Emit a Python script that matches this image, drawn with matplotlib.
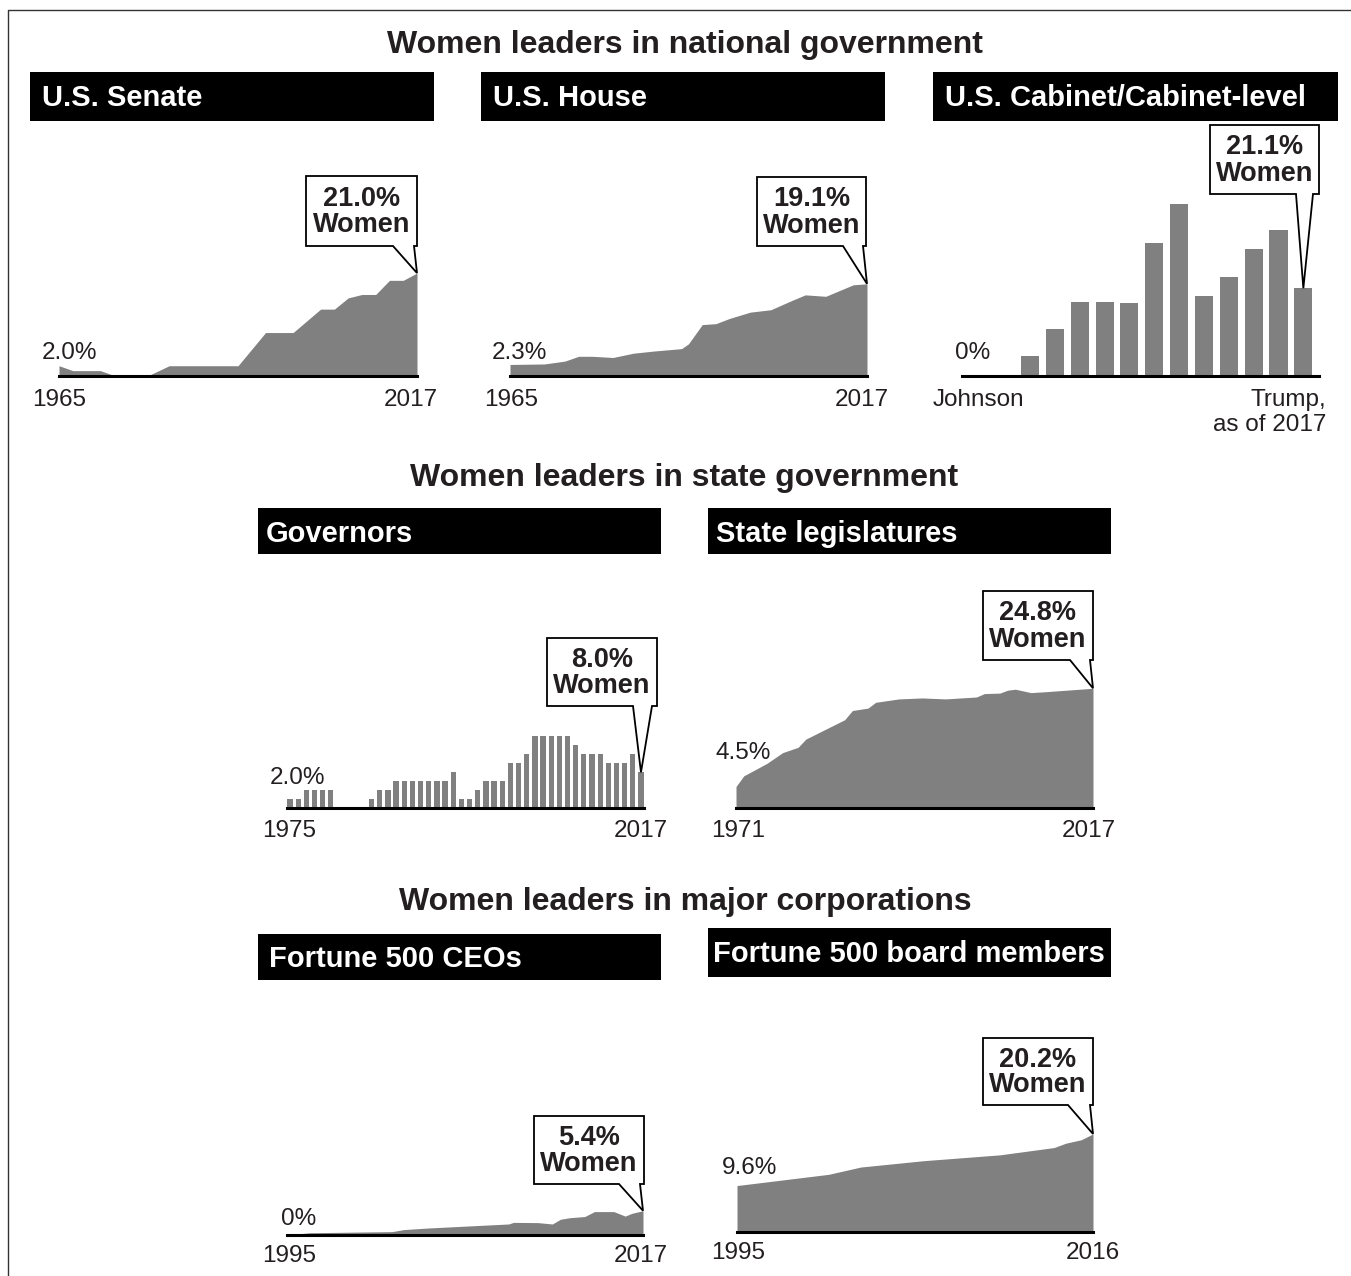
import matplotlib
matplotlib.use("Agg")
import matplotlib.pyplot as plt
from matplotlib.patches import Rectangle, Polygon

# ---------------- data ----------------
senate_years = [1965, 1967, 1971, 1973, 1978, 1981, 1991, 1995, 1999, 2003, 2005, 2007, 2009, 2011, 2013, 2015, 2017]
senate_pct = [2.0, 1.0, 1.0, 0.0, 0.0, 2.0, 2.0, 8.8, 8.8, 13.6, 13.6, 15.9, 16.6, 16.6, 19.5, 19.5, 21.0]

house_years = [1965, 1970, 1973, 1975, 1977, 1980, 1983, 1986, 1990, 1991, 1993, 1995, 1997, 2000, 2003, 2006, 2008, 2011, 2015, 2017]
house_pct = [2.3, 2.4, 3.0, 4.0, 4.0, 3.75, 4.65, 5.1, 5.6, 6.6, 10.6, 10.8, 11.9, 13.2, 13.7, 15.6, 16.8, 16.5, 18.9, 19.1]

cabinet_admins = ["Johnson", "Nixon", "Ford", "Carter", "Reagan I", "Reagan II", "G.H.W. Bush",
                  "Clinton I", "Clinton II", "G.W. Bush I", "G.W. Bush II", "Obama I", "Obama II", "Trump"]
cabinet_pct = [0.0, 0.0, 4.7, 11.2, 17.7, 17.7, 17.5, 31.9, 41.3, 19.2, 23.7, 30.5, 35.1, 21.1]

governors_pct = [2, 2, 4, 4, 4, 4, 0, 0, 0, 0,
                 2, 4, 4, 6, 6, 6, 6, 6, 6, 6, 8, 2, 2, 4, 6, 6, 6, 10, 10, 12,
                 16, 16, 16, 16, 16, 14, 12, 12, 12, 10, 10, 10, 12, 8]

state_years = [1971, 1972, 1975, 1977, 1979, 1980, 1982, 1985, 1986, 1988, 1989, 1992, 1995, 1998, 2002, 2003, 2005, 2006, 2007, 2009, 2011, 2017]
state_pct = [4.5, 6.7, 9.3, 11.5, 12.6, 14.3, 15.9, 18.3, 20.2, 20.7, 21.9, 22.6, 22.8, 22.6, 23.0, 23.7, 23.8, 24.4, 24.6, 23.9, 24.1, 24.8]

ceo_years = [1995, 1996.4, 2001.5, 2002.2, 2003.7, 2008.7, 2009, 2010.5, 2011.4, 2011.9, 2012.5, 2013.4, 2014, 2015.2, 2015.9, 2016.3, 2017]
ceo_pct = [0.0, 0.5, 0.75, 1.2, 1.55, 2.45, 2.8, 2.75, 2.45, 3.5, 3.85, 4.1, 5.2, 5.2, 4.2, 4.8, 5.4]

board_years = [1995, 2000.4, 2002.3, 2006, 2010.5, 2013.7, 2014.4, 2015.3, 2016]
board_pct = [9.6, 11.9, 13.4, 14.7, 15.9, 17.4, 18.3, 19.0, 20.2]

section_titles = ["Women leaders in national government",
                  "Women leaders in state government",
                  "Women leaders in major corporations"]

# ---------------- style ----------------
W, H = 1351, 1276
GRAY = "#808080"
TXT = "#231f20"
plt.rcParams['font.family'] = ['Liberation Sans', 'DejaVu Sans']

fig = plt.figure(figsize=(W / 100, H / 100), dpi=100)
fig.patch.set_facecolor("white")

overlay = fig.add_axes([0, 0, 1, 1])
overlay.set_xlim(0, W)
overlay.set_ylim(H, 0)
overlay.axis("off")
overlay.set_zorder(10)
overlay.patch.set_alpha(0)

# outer frame (left and top edges visible)
overlay.plot([8, 8, W + 5], [H + 5, 10, 10], color="#333333", lw=1.0)

TITLE_FS = 23
HEAD_FS = 21
LAB_FS = 17.5
CALL_FS = 19.5
DY = 2  # small vertical nudge for text baselines


def chart_axes(x0, x1, y0, k, ymax, xlim):
    top = y0 - k * ymax
    ax = fig.add_axes([x0 / W, 1 - y0 / H, (x1 - x0) / W, (y0 - top) / H])
    ax.set_xlim(*xlim)
    ax.set_ylim(0, ymax)
    ax.axis("off")
    ax.axhline(0, color="black", lw=2.2, clip_on=False, zorder=5)
    return ax


def header(x0, x1, y0, y1, text, tx, ty):
    overlay.add_patch(Rectangle((x0, y0), x1 - x0, y1 - y0, fc="black", ec="none"))
    overlay.text(tx, ty + DY, text, color="white", fontsize=HEAD_FS, fontweight="bold",
                 ha="left", va="center")


def label(x, y, text, ha="left"):
    overlay.text(x, y + DY, text, color=TXT, fontsize=LAB_FS, ha=ha, va="center")


def callout(ax, x, y, box, base, lines):
    disp = ax.transData.transform((x, y))
    tx, ty = disp[0], H - disp[1]
    bx0, by0, bx1, by1 = box
    verts = [(bx0, by0), (bx1, by0), (bx1, by1), (base[1], by1), (tx, ty),
             (base[0], by1), (bx0, by1)]
    overlay.add_patch(Polygon(verts, closed=True, fc="white", ec="black", lw=1.3,
                              joinstyle="miter"))
    cx = (bx0 + bx1) / 2
    overlay.text(cx, by0 + (by1 - by0) * 0.31 + 1, lines[0], color=TXT, fontsize=CALL_FS,
                 fontweight="bold", ha="center", va="center")
    overlay.text(cx, by0 + (by1 - by0) * 0.69 + 1, lines[1], color=TXT, fontsize=CALL_FS,
                 fontweight="bold", ha="center", va="center")


# section titles
for (cx, cy), t in zip([(685, 43), (684, 476), (685, 900)], section_titles):
    overlay.text(cx, cy + DY, t, color=TXT, fontsize=TITLE_FS, fontweight="bold",
                 ha="center", va="center")

# ---------------- Senate ----------------
header(30, 434, 72, 121, "U.S. Senate", 42, 96)
ax = chart_axes(59, 417, 375.5, 4.88, 25, (senate_years[0], senate_years[-1]))
ax.fill_between(senate_years, 0, senate_pct, color=GRAY, lw=0)
label(42, 351, "2.0%")
label(32, 398, "1965")
label(438, 398, "2017", ha="right")
callout(ax, senate_years[-1], senate_pct[-1], (306, 176, 417, 246), (393, 414),
        ["21.0%", "Women"])

# ---------------- House ----------------
header(481, 885, 72, 121, "U.S. House", 493, 96)
ax = chart_axes(510, 867, 375.5, 4.8, 25, (house_years[0], house_years[-1]))
ax.fill_between(house_years, 0, house_pct, color=GRAY, lw=0)
label(492, 351, "2.3%")
label(484, 398, "1965")
label(889, 398, "2017", ha="right")
callout(ax, house_years[-1], house_pct[-1], (757, 177, 866, 246), (843, 863),
        ["19.1%", "Women"])

# ---------------- Cabinet ----------------
header(933, 1338, 72, 121, "U.S. Cabinet/Cabinet-level", 945, 96)
ax = chart_axes(962, 1319, 376, 4.16, 50, (-0.74, len(cabinet_pct) - 1 + 0.63))
ax.bar(range(len(cabinet_pct)), cabinet_pct, width=0.725, color=GRAY, lw=0)
label(955, 351, "0%")
label(933, 398, "Johnson")
label(1326, 398, "Trump,", ha="right")
label(1326, 423, "as of 2017", ha="right")
callout(ax, len(cabinet_pct) - 1, cabinet_pct[-1], (1210, 125, 1319, 194), (1296, 1313),
        ["21.1%", "Women"])

# ---------------- Governors ----------------
header(258, 661, 508, 554, "Governors", 266, 532)
n = len(governors_pct)
ax = chart_axes(287, 644, 808.3, 4.5, 25, (-0.37, n - 1 + 0.37))
ax.bar(range(n), governors_pct, width=0.65, color=GRAY, lw=0)
label(270, 776, "2.0%")
label(262, 829, "1975")
label(668, 829, "2017", ha="right")
callout(ax, n - 1, governors_pct[-1], (547, 638, 657, 706), (633, 652),
        ["8.0%", "Women"])

# ---------------- State legislatures ----------------
header(708, 1111, 508, 554, "State legislatures", 716, 532)
ax = chart_axes(736, 1093, 808.3, 4.84, 30, (state_years[0], state_years[-1]))
ax.fill_between(state_years, 0, state_pct, color=GRAY, lw=0)
label(715, 751, "4.5%")
label(711, 829, "1971")
label(1116, 829, "2017", ha="right")
callout(ax, state_years[-1], state_pct[-1], (983, 591, 1093, 660), (1070, 1090),
        ["24.8%", "Women"])

# ---------------- Fortune 500 CEOs ----------------
header(258, 661, 934, 980, "Fortune 500 CEOs", 269, 957)
ax = chart_axes(287, 643, 1235, 4.5, 25, (ceo_years[0], ceo_years[-1]))
ax.fill_between(ceo_years, 0, ceo_pct, color=GRAY, lw=0)
label(281, 1217, "0%")
label(262, 1254, "1995")
label(668, 1254, "2017", ha="right")
callout(ax, ceo_years[-1], ceo_pct[-1], (534, 1116, 644, 1184), (619, 640),
        ["5.4%", "Women"])

# ---------------- Fortune 500 board members ----------------
header(708, 1111, 928, 977, "Fortune 500 board members", 713, 952)
ax = chart_axes(737, 1093, 1232.3, 4.87, 25, (board_years[0], board_years[-1]))
ax.fill_between(board_years, 0, board_pct, color=GRAY, lw=0)
label(722, 1166, "9.6%")
label(711, 1251, "1995")
label(1120, 1251, "2016", ha="right")
callout(ax, board_years[-1], board_pct[-1], (983, 1038, 1093, 1105), (1068, 1090),
        ["20.2%", "Women"])

fig.savefig("out.png", dpi=100, facecolor="white")
